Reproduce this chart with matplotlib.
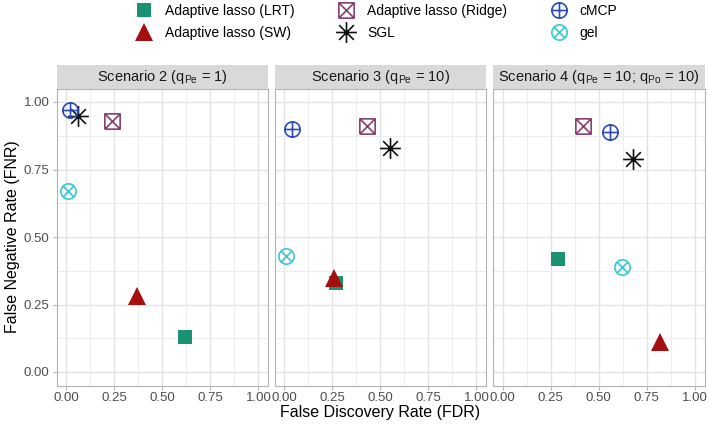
import matplotlib
matplotlib.use("Agg")
import matplotlib.pyplot as plt
from matplotlib.path import Path
import numpy as np

plt.rcParams['font.family'] = ['Liberation Sans', 'DejaVu Sans']
plt.rcParams['mathtext.fontset'] = 'custom'
plt.rcParams['mathtext.rm'] = 'Liberation Sans'

# scenarios (facet titles)
scenarios = [r"Scenario 2 (q$_\mathregular{Pe}$ = 1)",
             r"Scenario 3 (q$_\mathregular{Pe}$ = 10)",
             r"Scenario 4 (q$_\mathregular{Pe}$ = 10; q$_\mathregular{Po}$ = 10)"]

methods = ["Adaptive lasso (LRT)", "Adaptive lasso (SW)", "Adaptive lasso (Ridge)",
           "SGL", "cMCP", "gel"]

# FDR per method, one value per scenario
fdr_lrt = [0.62, 0.27, 0.29]
fdr_sw = [0.37, 0.26, 0.82]
fdr_ridge = [0.24, 0.43, 0.42]
fdr_sgl = [0.06, 0.55, 0.68]
fdr_cmcp = [0.02, 0.04, 0.56]
fdr_gel = [0.01, 0.01, 0.62]

# FNR per method, one value per scenario
fnr_lrt = [0.13, 0.33, 0.42]
fnr_sw = [0.28, 0.35, 0.11]
fnr_ridge = [0.93, 0.91, 0.91]
fnr_sgl = [0.95, 0.83, 0.79]
fnr_cmcp = [0.97, 0.90, 0.89]
fnr_gel = [0.67, 0.43, 0.39]

fdr = [fdr_lrt, fdr_sw, fdr_ridge, fdr_sgl, fdr_cmcp, fdr_gel]
fnr = [fnr_lrt, fnr_sw, fnr_ridge, fnr_sgl, fnr_cmcp, fnr_gel]

ticks = [0.0, 0.25, 0.5, 0.75, 1.0]
tick_labels = ["0.00", "0.25", "0.50", "0.75", "1.00"]


# R-like point shapes as custom paths
def compound(*paths):
    return Path.make_compound_path(*paths)


def seg(a, b):
    return Path([a, b], [Path.MOVETO, Path.LINETO])


square = Path([(-1, -1), (1, -1), (1, 1), (-1, 1), (-1, -1)])
circle = Path.unit_circle()
d = 0.7071
square_x = compound(square, seg((-1, -1), (1, 1)), seg((-1, 1), (1, -1)))
circle_plus = compound(circle, seg((-1, 0), (1, 0)), seg((0, -1), (0, 1)))
circle_x = compound(circle, seg((-d, -d), (d, d)), seg((-d, d), (d, -d)))
star8 = compound(seg((-1, 0), (1, 0)), seg((0, -1), (0, 1)),
                 seg((-d, -d), (d, d)), seg((-d, d), (d, -d)))

styles = [
    dict(marker="s", color="#1A9273", ms=10.5, filled=True),
    dict(marker="^", color="#A50F0F", ms=13, filled=True),
    dict(marker=square_x, color="#86406F", ms=11, filled=False),
    dict(marker=star8, color="#111111", ms=15, filled=False),
    dict(marker=circle_plus, color="#2B4DB5", ms=11, filled=False),
    dict(marker=circle_x, color="#38C8D4", ms=11, filled=False),
]

fig = plt.figure(figsize=(7.08, 4.25), dpi=100)
W, H = 708.0, 425.0
lefts = [56.6, 274.6, 493.0]
pw = 211.5
top, bottom = 88.5, 385.5
strip_h = 24.0

handles = []
for i, title in enumerate(scenarios):
    ax = fig.add_axes([lefts[i] / W, 1 - bottom / H, pw / W, (bottom - top) / H])
    ax.set_xlim(-0.05, 1.05)
    ax.set_ylim(-0.05, 1.05)
    ax.set_xticks(ticks)
    ax.set_xticklabels(tick_labels)
    ax.set_yticks(ticks)
    ax.set_xticks(np.arange(0.125, 1.0, 0.25), minor=True)
    ax.set_yticks(np.arange(0.125, 1.0, 0.25), minor=True)
    ax.grid(True, which="major", color="#E3E3E3", lw=1.0)
    ax.grid(True, which="minor", color="#EDEDED", lw=0.7)
    ax.set_axisbelow(True)
    for s in ax.spines.values():
        s.set_color("#B3B3B3")
        s.set_linewidth(0.8)
    ax.tick_params(which="major", length=3, color="#B3B3B3", labelsize=9.5,
                   labelcolor="#4D4D4D", pad=2)
    ax.tick_params(which="minor", length=0)
    if i == 0:
        ax.set_yticklabels(tick_labels)
    else:
        ax.tick_params(axis="y", which="both", left=False, labelleft=False)

    for m in range(len(methods)):
        st = styles[m]
        h, = ax.plot(fdr[m][i], fnr[m][i], linestyle="none", marker=st["marker"],
                     markersize=st["ms"], color=st["color"],
                     markerfacecolor=st["color"] if st["filled"] else "none",
                     markeredgewidth=0 if st["filled"] else 1.2,
                     label=methods[m], clip_on=False, zorder=3)
        if i == 0:
            handles.append(h)

    # facet strip
    sax = fig.add_axes([lefts[i] / W, 1 - top / H, pw / W, strip_h / H])
    sax.set_facecolor("#D9D9D9")
    sax.set_xticks([])
    sax.set_yticks([])
    for s in sax.spines.values():
        s.set_visible(False)
    sax.text(0.5, 0.5, title, ha="center", va="center", fontsize=10.5,
             color="#1A1A1A", transform=sax.transAxes)

fig.text(380.5 / W, 1 - 413 / H, "False Discovery Rate (FDR)", ha="center",
         va="center", fontsize=11.5)
fig.text(13 / W, 1 - 237 / H, "False Negative Rate (FNR)", ha="center",
         va="center", rotation=90, fontsize=11.5)

fig.legend(handles=handles, labels=methods, loc="upper center",
           bbox_to_anchor=(0.532, 1.02), ncol=3, frameon=False, fontsize=10,
           handlelength=1.2, handletextpad=0.9, columnspacing=3.1,
           labelspacing=0.55)

fig.savefig("out.png", dpi=100)
